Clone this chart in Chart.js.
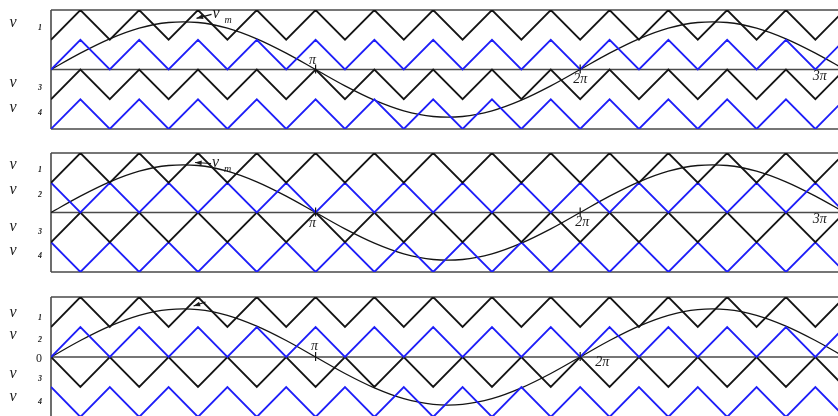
<!DOCTYPE html>
<html>
<head>
<meta charset="utf-8">
<script src="https://cdn.jsdelivr.net/npm/chart.js@4.4.0/dist/chart.umd.min.js"></script>
<style>
  html, body { margin: 0; padding: 0; background: #fff; overflow: hidden; width: 838px; height: 416px; }
  .panel { position: absolute; left: 0; width: 838px; height: 140px; }
</style>
</head>
<body>
<div class="panel" style="top:0px"><canvas id="pd" width="838" height="140"></canvas></div>
<div class="panel" style="top:140px"><canvas id="apod" width="838" height="140"></canvas></div>
<div class="panel" style="top:280px"><canvas id="pod" width="838" height="140"></canvas></div>
<script>
// Angle axis in carrier half-periods (π/9 each): 9 = π, 18 = 2π, 27 = 3π
const steps = [0, 1, 2, 3, 4, 5, 6, 7, 8, 9, 10, 11, 12, 13, 14, 15, 16, 17, 18, 19, 20, 21, 22, 23, 24, 25, 26, 27];

// Modulating reference v_m
const modulating = [0, 0.55, 1.03, 1.39, 1.58, 1.58, 1.39, 1.03, 0.55, 0, -0.55, -1.03, -1.39, -1.58, -1.58, -1.39, -1.03, -0.55, 0, 0.55, 1.03, 1.39, 1.58, 1.58, 1.39, 1.03, 0.55, 0];

// Carrier bands, vertex values (band 1 on top, band 4 at the bottom)
const band1 = [1, 2, 1, 2, 1, 2, 1, 2, 1, 2, 1, 2, 1, 2, 1, 2, 1, 2, 1, 2, 1, 2, 1, 2, 1, 2, 1, 2];
const band2 = [0, 1, 0, 1, 0, 1, 0, 1, 0, 1, 0, 1, 0, 1, 0, 1, 0, 1, 0, 1, 0, 1, 0, 1, 0, 1, 0, 1];
const band2Opp = [1, 0, 1, 0, 1, 0, 1, 0, 1, 0, 1, 0, 1, 0, 1, 0, 1, 0, 1, 0, 1, 0, 1, 0, 1, 0, 1, 0];
const band3 = [-1, 0, -1, 0, -1, 0, -1, 0, -1, 0, -1, 0, -1, 0, -1, 0, -1, 0, -1, 0, -1, 0, -1, 0, -1, 0, -1, 0];
const band3Opp = [0, -1, 0, -1, 0, -1, 0, -1, 0, -1, 0, -1, 0, -1, 0, -1, 0, -1, 0, -1, 0, -1, 0, -1, 0, -1, 0, -1];
const band4 = [-2, -1, -2, -1, -2, -1, -2, -1, -2, -1, -2, -1, -2, -1, -2, -1, -2, -1, -2, -1, -2, -1, -2, -1, -2, -1, -2, -1];
const band4Opp = [-1, -2, -1, -2, -1, -2, -1, -2, -1, -2, -1, -2, -1, -2, -1, -2, -1, -2, -1, -2, -1, -2, -1, -2, -1, -2, -1, -2];

// Angle marks along the zero line
const angleMarks = [9, 18, 27];
const angleNames = ['π', '2π', '3π'];

const BLACK = '#141414';
const BLUE = '#1e1ef8';
const FRAME = '#4a4a4a';

function pts(vals) { return steps.map((s, i) => ({ x: s, y: vals[i] })); }

// Draws the frame, zero line, angle marks and all annotations of a panel
const pwmDecor = {
  id: 'pwmDecor',
  beforeDatasetsDraw(chart) {
    const { ctx, chartArea: a, scales: { y } } = chart;
    const mid = y.getPixelForValue(0);
    ctx.save();
    ctx.strokeStyle = FRAME;
    ctx.lineWidth = 1.6;
    ctx.beginPath();
    ctx.moveTo(a.left, a.top); ctx.lineTo(a.right, a.top);
    ctx.moveTo(a.left, a.bottom); ctx.lineTo(a.right, a.bottom);
    ctx.moveTo(a.left, a.top); ctx.lineTo(a.left, a.bottom);
    ctx.moveTo(a.left, mid); ctx.lineTo(a.right, mid);
    ctx.stroke();
    ctx.restore();
  },
  afterDatasetsDraw(chart, args, opts) {
    const { ctx, scales: { x, y } } = chart;
    const mid = y.getPixelForValue(0);
    ctx.save();
    // angle ticks
    ctx.strokeStyle = BLACK;
    ctx.lineWidth = 1.2;
    angleMarks.forEach(m => {
      const px = x.getPixelForValue(m);
      ctx.beginPath(); ctx.moveTo(px, mid - 5); ctx.lineTo(px, mid + 4); ctx.stroke();
    });
    // angle names
    ctx.fillStyle = '#1a1a1a';
    ctx.font = 'italic 14px "Liberation Serif"';
    ctx.textAlign = 'center';
    ctx.textBaseline = 'middle';
    opts.angleLabels.forEach(l => {
      ctx.fillText(angleNames[l.i], x.getPixelForValue(angleMarks[l.i]) + l.dx, mid + l.dy);
    });
    // carrier names on the left
    opts.sideLabels.forEach(l => {
      const py = y.getPixelForValue(l.v);
      ctx.font = 'italic 16px "Liberation Serif"';
      ctx.textAlign = 'center';
      ctx.fillText('v', 13, py);
      ctx.font = 'italic bold 8px "Liberation Serif"';
      ctx.fillText(l.sub, 40, py + 5);
    });
    if (opts.zero) {
      ctx.font = '12px "Liberation Serif"';
      ctx.textAlign = 'center';
      ctx.fillText('0', 39, mid + 2);
    }
    // v_m pointer
    const ar = opts.arrow;
    const tipX = x.getPixelForValue(ar.tip[0]), tipY = y.getPixelForValue(ar.tip[1]);
    const tailX = tipX + ar.tail[0], tailY = tipY + ar.tail[1];
    ctx.strokeStyle = BLACK;
    ctx.lineWidth = 1.2;
    ctx.beginPath(); ctx.moveTo(tailX, tailY); ctx.lineTo(tipX, tipY); ctx.stroke();
    const ang = Math.atan2(tipY - tailY, tipX - tailX);
    ctx.beginPath();
    ctx.moveTo(tipX, tipY);
    ctx.lineTo(tipX - 7 * Math.cos(ang - 0.35), tipY - 7 * Math.sin(ang - 0.35));
    ctx.lineTo(tipX - 7 * Math.cos(ang + 0.35), tipY - 7 * Math.sin(ang + 0.35));
    ctx.closePath();
    ctx.fill();
    if (ar.text) {
      ctx.textAlign = 'left';
      ctx.font = 'italic 16px "Liberation Serif"';
      ctx.fillText('v', tailX + 1, tailY - 1);
      ctx.font = 'italic 10px "Liberation Serif"';
      ctx.fillText('m', tailX + 13, tailY + 6);
    }
    ctx.restore();
  }
};

function makePanel(id, carriers, pad, decor) {
  const colors = [BLACK, BLUE, BLACK, BLUE];
  const datasets = carriers.map((c, i) => ({
    data: pts(c), borderColor: colors[i], borderWidth: 1.8, tension: 0, pointRadius: 0
  }));
  datasets.push({ data: pts(modulating), borderColor: BLACK, borderWidth: 1.3, tension: 0.33, pointRadius: 0 });
  new Chart(document.getElementById(id), {
    type: 'line',
    data: { datasets },
    options: {
      responsive: false,
      animation: false,
      layout: { padding: { left: 51, right: 0, top: pad[0], bottom: pad[1] } },
      scales: {
        x: { type: 'linear', min: 0, max: 26.77, display: false },
        y: { min: -2, max: 2, display: false }
      },
      plugins: { legend: { display: false }, tooltip: { enabled: false }, pwmDecor: decor }
    },
    plugins: [pwmDecor]
  });
}

// Phase disposition
makePanel('pd', [band1, band2, band3, band4], [10, 11], {
  angleLabels: [{ i: 0, dx: -3, dy: -9 }, { i: 1, dx: 0, dy: 9.5 }, { i: 2, dx: -25, dy: 6.5 }],
  sideLabels: [{ v: 1.56, sub: '1' }, { v: -0.45, sub: '3' }, { v: -1.29, sub: '4' }],
  zero: false,
  arrow: { tip: [4.95, 1.72], tail: [15, -4], text: true }
});

// Alternative phase opposition disposition
makePanel('apod', [band1, band2Opp, band3, band4Opp], [13, 8], {
  angleLabels: [{ i: 0, dx: -3, dy: 11 }, { i: 1, dx: 2, dy: 9.5 }, { i: 2, dx: -25, dy: 7 }],
  sideLabels: [{ v: 1.6, sub: '1' }, { v: 0.76, sub: '2' }, { v: -0.49, sub: '3' }, { v: -1.29, sub: '4' }],
  zero: false,
  arrow: { tip: [4.9, 1.68], tail: [16, 1], text: true }
});

// Phase opposition disposition
makePanel('pod', [band1, band2, band3Opp, band4Opp], [17, 3], {
  angleLabels: [{ i: 0, dx: -1, dy: -11 }, { i: 1, dx: 22, dy: 5 }],
  sideLabels: [{ v: 1.47, sub: '1' }, { v: 0.73, sub: '2' }, { v: -0.57, sub: '3' }, { v: -1.33, sub: '4' }],
  zero: true,
  arrow: { tip: [4.85, 1.7], tail: [12, -4], text: false }
});
</script>
</body>
</html>
